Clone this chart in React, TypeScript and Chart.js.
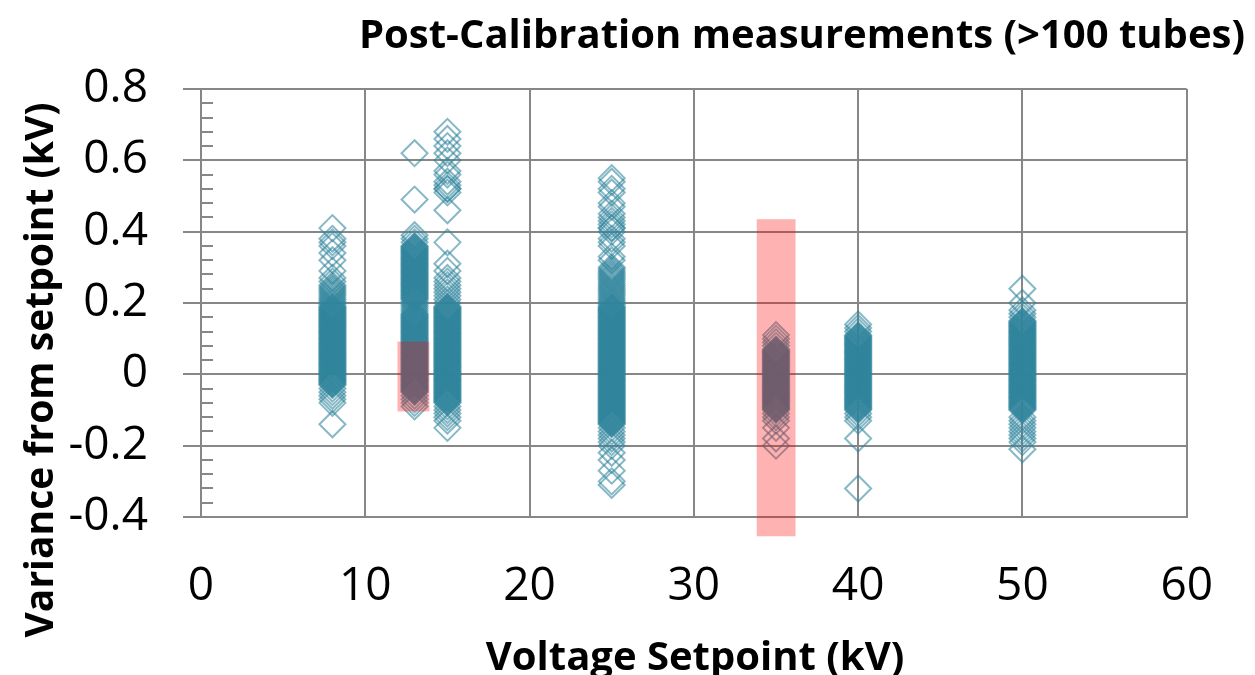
import React, { useEffect, useRef } from "react";
import { Chart, registerables } from "chart.js";

Chart.register(...registerables);

// ---- Data (kV setpoint columns and their measured variances) ----
const SETPOINTS = [8, 13, 15, 25, 35, 40, 50];

const VAR_8 = [
  0.41, 0.38, 0.37, 0.36, 0.34, 0.32, 0.29, 0.27, 0.26, 0.25, 0.24, 0.23, 0.22, 0.21, 0.2,
  0.245, 0.235, 0.225, 0.215, 0.205, 0.195,
  0.19, 0.185, 0.18, 0.175, 0.17, 0.165, 0.16, 0.155, 0.15, 0.145, 0.14, 0.135, 0.13, 0.125, 0.12, 0.115,
  0.11, 0.105, 0.1, 0.095, 0.09, 0.085, 0.08, 0.075, 0.07, 0.065, 0.06, 0.055, 0.05, 0.045, 0.04, 0.035,
  0.03, 0.025, 0.02, 0.015, 0.01, 0.005, 0, -0.005, -0.01, -0.015, -0.02, -0.025, -0.03,
  0.1875, 0.1825, 0.1775, 0.1725, 0.1675, 0.1625, 0.1575, 0.1525, 0.1475, 0.1425, 0.1375, 0.1325, 0.1275,
  0.1225, 0.1175, 0.1125, 0.1075, 0.1025, 0.0975, 0.0925, 0.0875, 0.0825, 0.0775, 0.0725, 0.0675, 0.0625,
  0.0575, 0.0525, 0.0475, 0.0425, 0.0375, 0.0325, 0.0275, 0.0225, 0.0175, 0.0125, 0.0075, 0.0025, -0.0025,
  -0.0075, -0.0125, -0.0175, -0.0225, -0.0275,
  -0.04, -0.05, -0.06, -0.07, -0.08, -0.14,
];
const VAR_13 = [
  0.62, 0.49, 0.39, 0.38, 0.37,
  0.36, 0.355, 0.35, 0.345, 0.34, 0.335, 0.33, 0.325, 0.32, 0.315, 0.31, 0.305, 0.3, 0.295, 0.29, 0.285,
  0.28, 0.275, 0.27, 0.265, 0.26, 0.255, 0.25, 0.245, 0.24, 0.235, 0.23, 0.225, 0.22, 0.215, 0.21,
  0.3575, 0.3525, 0.3475, 0.3425, 0.3375, 0.3325, 0.3275, 0.3225, 0.3175, 0.3125, 0.3075, 0.3025, 0.2975,
  0.2925, 0.2875, 0.2825, 0.2775, 0.2725, 0.2675, 0.2625, 0.2575, 0.2525, 0.2475, 0.2425, 0.2375, 0.2325,
  0.2275, 0.2225, 0.2175, 0.2125,
  0.205, 0.2, 0.195, 0.19, 0.185, 0.18, 0.175,
  0.17, 0.165, 0.16, 0.155, 0.15, 0.145, 0.14, 0.135, 0.13, 0.125, 0.12, 0.115, 0.11, 0.105, 0.1, 0.095,
  0.09, 0.085, 0.08, 0.075, 0.07, 0.065, 0.06, 0.055, 0.05, 0.045, 0.04, 0.035, 0.03, 0.025, 0.02, 0.015,
  0.01, 0.005, 0, -0.005, -0.01, -0.015, -0.02, -0.025, -0.03, -0.035, -0.04, -0.045, -0.05,
  0.1675, 0.1625, 0.1575, 0.1525, 0.1475, 0.1425, 0.1375, 0.1325, 0.1275, 0.1225, 0.1175, 0.1125, 0.1075,
  0.1025, 0.0975, 0.0925, 0.0875, 0.0825, 0.0775, 0.0725, 0.0675, 0.0625, 0.0575, 0.0525, 0.0475, 0.0425,
  0.0375, 0.0325, 0.0275, 0.0225, 0.0175, 0.0125, 0.0075, 0.0025, -0.0025, -0.0075, -0.0125, -0.0175,
  -0.0225, -0.0275, -0.0325, -0.0375, -0.0425, -0.0475,
  -0.06, -0.07, -0.08, -0.09,
];
const VAR_15 = [
  0.68, 0.66, 0.64, 0.62, 0.6, 0.57, 0.56, 0.54, 0.53, 0.52, 0.52, 0.51, 0.46, 0.37, 0.31,
  0.29, 0.27, 0.26, 0.25, 0.24, 0.23, 0.22, 0.21, 0.2,
  0.19, 0.185, 0.18, 0.175, 0.17, 0.165, 0.16, 0.155, 0.15, 0.145, 0.14, 0.135, 0.13, 0.125, 0.12, 0.115,
  0.11, 0.105, 0.1, 0.095, 0.09, 0.085, 0.08, 0.075, 0.07, 0.065, 0.06, 0.055, 0.05, 0.045, 0.04, 0.035,
  0.03, 0.025, 0.02, 0.015, 0.01, 0.005, 0, -0.005, -0.01, -0.015, -0.02, -0.025, -0.03, -0.035, -0.04,
  -0.045, -0.05, -0.055, -0.06, -0.065, -0.07, -0.075, -0.08,
  0.1875, 0.1825, 0.1775, 0.1725, 0.1675, 0.1625, 0.1575, 0.1525, 0.1475, 0.1425, 0.1375, 0.1325, 0.1275,
  0.1225, 0.1175, 0.1125, 0.1075, 0.1025, 0.0975, 0.0925, 0.0875, 0.0825, 0.0775, 0.0725, 0.0675, 0.0625,
  0.0575, 0.0525, 0.0475, 0.0425, 0.0375, 0.0325, 0.0275, 0.0225, 0.0175, 0.0125, 0.0075, 0.0025, -0.0025,
  -0.0075, -0.0125, -0.0175, -0.0225, -0.0275, -0.0325, -0.0375, -0.0425, -0.0475, -0.0525, -0.0575,
  -0.0625, -0.0675, -0.0725, -0.0775,
  -0.09, -0.1, -0.11, -0.12, -0.13, -0.15,
];
const VAR_25 = [
  0.55, 0.54, 0.52, 0.51, 0.48, 0.47, 0.45, 0.44, 0.43, 0.42, 0.41, 0.41, 0.4, 0.38, 0.37, 0.36, 0.33, 0.32,
  0.3, 0.29, 0.28, 0.27, 0.26, 0.25, 0.24, 0.23, 0.22, 0.21, 0.2,
  0.295, 0.285, 0.275, 0.265, 0.255, 0.245, 0.235, 0.225, 0.215, 0.205, 0.195,
  0.19, 0.185, 0.18, 0.175, 0.17, 0.165, 0.16, 0.155, 0.15, 0.145, 0.14, 0.135, 0.13, 0.125, 0.12, 0.115,
  0.11, 0.105, 0.1, 0.095, 0.09, 0.085, 0.08, 0.075, 0.07, 0.065, 0.06, 0.055, 0.05, 0.045, 0.04, 0.035,
  0.03, 0.025, 0.02, 0.015, 0.01, 0.005, 0, -0.005, -0.01, -0.015, -0.02, -0.025, -0.03, -0.035, -0.04,
  -0.045, -0.05, -0.055, -0.06, -0.065, -0.07, -0.075, -0.08, -0.085, -0.09, -0.095, -0.1, -0.105, -0.11,
  -0.115, -0.12, -0.125, -0.13, -0.135, -0.14,
  0.1875, 0.1825, 0.1775, 0.1725, 0.1675, 0.1625, 0.1575, 0.1525, 0.1475, 0.1425, 0.1375, 0.1325, 0.1275,
  0.1225, 0.1175, 0.1125, 0.1075, 0.1025, 0.0975, 0.0925, 0.0875, 0.0825, 0.0775, 0.0725, 0.0675, 0.0625,
  0.0575, 0.0525, 0.0475, 0.0425, 0.0375, 0.0325, 0.0275, 0.0225, 0.0175, 0.0125, 0.0075, 0.0025, -0.0025,
  -0.0075, -0.0125, -0.0175, -0.0225, -0.0275, -0.0325, -0.0375, -0.0425, -0.0475, -0.0525, -0.0575,
  -0.0625, -0.0675, -0.0725, -0.0775, -0.0825, -0.0875, -0.0925, -0.0975, -0.1025, -0.1075, -0.1125,
  -0.1175, -0.1225, -0.1275, -0.1325, -0.1375,
  -0.15, -0.16, -0.17, -0.18, -0.19, -0.2, -0.22, -0.24, -0.27, -0.3, -0.31,
];
const VAR_35 = [
  0.11, 0.1, 0.09, 0.08,
  0.07, 0.065, 0.06, 0.055, 0.05, 0.045, 0.04, 0.035, 0.03, 0.025, 0.02, 0.015, 0.01, 0.005, 0, -0.005,
  -0.01, -0.015, -0.02, -0.025, -0.03, -0.035, -0.04, -0.045, -0.05, -0.055, -0.06, -0.065, -0.07, -0.075,
  -0.08, -0.085, -0.09, -0.095, -0.1,
  0.0675, 0.0625, 0.0575, 0.0525, 0.0475, 0.0425, 0.0375, 0.0325, 0.0275, 0.0225, 0.0175, 0.0125, 0.0075,
  0.0025, -0.0025, -0.0075, -0.0125, -0.0175, -0.0225, -0.0275, -0.0325, -0.0375, -0.0425, -0.0475,
  -0.0525, -0.0575, -0.0625, -0.0675, -0.0725, -0.0775, -0.0825, -0.0875, -0.0925, -0.0975,
  -0.11, -0.12, -0.13, -0.15, -0.18, -0.2,
];
const VAR_40 = [
  0.14, 0.13, 0.12,
  0.11, 0.105, 0.1, 0.095, 0.09, 0.085, 0.08, 0.075, 0.07, 0.065, 0.06, 0.055, 0.05, 0.045, 0.04, 0.035,
  0.03, 0.025, 0.02, 0.015, 0.01, 0.005, 0, -0.005, -0.01, -0.015, -0.02, -0.025, -0.03, -0.035, -0.04,
  -0.045, -0.05, -0.055, -0.06, -0.065, -0.07, -0.075, -0.08, -0.085, -0.09, -0.095, -0.1,
  0.1075, 0.1025, 0.0975, 0.0925, 0.0875, 0.0825, 0.0775, 0.0725, 0.0675, 0.0625, 0.0575, 0.0525, 0.0475,
  0.0425, 0.0375, 0.0325, 0.0275, 0.0225, 0.0175, 0.0125, 0.0075, 0.0025, -0.0025, -0.0075, -0.0125,
  -0.0175, -0.0225, -0.0275, -0.0325, -0.0375, -0.0425, -0.0475, -0.0525, -0.0575, -0.0625, -0.0675,
  -0.0725, -0.0775, -0.0825, -0.0875, -0.0925, -0.0975,
  -0.11, -0.12, -0.13, -0.18, -0.32,
];
const VAR_50 = [
  0.24, 0.2, 0.18, 0.17, 0.16,
  0.15, 0.145, 0.14, 0.135, 0.13, 0.125, 0.12, 0.115, 0.11, 0.105, 0.1, 0.095, 0.09, 0.085, 0.08, 0.075,
  0.07, 0.065, 0.06, 0.055, 0.05, 0.045, 0.04, 0.035, 0.03, 0.025, 0.02, 0.015, 0.01, 0.005, 0, -0.005,
  -0.01, -0.015, -0.02, -0.025, -0.03, -0.035, -0.04, -0.045, -0.05, -0.055, -0.06, -0.065, -0.07, -0.075,
  -0.08, -0.085, -0.09, -0.095, -0.1,
  0.1475, 0.1425, 0.1375, 0.1325, 0.1275, 0.1225, 0.1175, 0.1125, 0.1075, 0.1025, 0.0975, 0.0925, 0.0875,
  0.0825, 0.0775, 0.0725, 0.0675, 0.0625, 0.0575, 0.0525, 0.0475, 0.0425, 0.0375, 0.0325, 0.0275, 0.0225,
  0.0175, 0.0125, 0.0075, 0.0025, -0.0025, -0.0075, -0.0125, -0.0175, -0.0225, -0.0275, -0.0325, -0.0375,
  -0.0425, -0.0475, -0.0525, -0.0575, -0.0625, -0.0675, -0.0725, -0.0775, -0.0825, -0.0875, -0.0925,
  -0.0975,
  -0.12, -0.13, -0.14, -0.15, -0.16, -0.17, -0.18, -0.19, -0.21,
];
const VARIANCES = [VAR_8, VAR_13, VAR_15, VAR_25, VAR_35, VAR_40, VAR_50];

// ---- Axes ----
const X_TICKS = [0, 10, 20, 30, 40, 50, 60];
const Y_TICKS = [-0.4, -0.2, 0, 0.2, 0.4, 0.6, 0.8];
const Y_MINOR_STEP = 0.04;

// ---- Highlight boxes (data coordinates) ----
const HIGHLIGHT_X = [
  [11.96, 13.9],
  [33.83, 36.19],
];
const HIGHLIGHT_Y = [
  [-0.104, 0.092],
  [-0.454, 0.435],
];

const TITLE = "Post-Calibration measurements (>100 tubes)";
const X_TITLE = "Voltage Setpoint (kV)";
const Y_TITLE = "Variance from setpoint (kV)";

const FONT = "'Open Sans', 'DejaVu Sans', sans-serif";
const GRID = "#878787";
const POINT = "rgba(49,133,156,0.58)";

const minorTicks = {
  id: "minorTicks",
  beforeDatasetsDraw(chart: any) {
    const y = chart.scales.y;
    const left = chart.chartArea.left;
    const ctx = chart.ctx;
    const min = Y_TICKS[0];
    const max = Y_TICKS[Y_TICKS.length - 1];
    const n = Math.round((max - min) / Y_MINOR_STEP);
    ctx.save();
    ctx.strokeStyle = GRID;
    ctx.lineWidth = 2;
    for (let k = 0; k <= n; k++) {
      const py = Math.round(y.getPixelForValue(min + k * Y_MINOR_STEP));
      ctx.beginPath();
      ctx.moveTo(left, py);
      ctx.lineTo(left + 12, py);
      ctx.stroke();
    }
    ctx.restore();
  },
};

const highlights = {
  id: "highlights",
  afterDatasetsDraw(chart: any) {
    const { x, y } = chart.scales;
    const ctx = chart.ctx;
    ctx.save();
    ctx.fillStyle = "rgba(255,0,0,0.3)";
    HIGHLIGHT_X.forEach((hx, i) => {
      const x0 = x.getPixelForValue(hx[0]);
      const x1 = x.getPixelForValue(hx[1]);
      const y0 = y.getPixelForValue(HIGHLIGHT_Y[i][1]);
      const y1 = y.getPixelForValue(HIGHLIGHT_Y[i][0]);
      ctx.fillRect(x0, y0, x1 - x0, y1 - y0);
    });
    ctx.restore();
  },
};

const texts = {
  id: "texts",
  afterDraw(chart: any) {
    const ctx = chart.ctx;
    ctx.save();
    ctx.fillStyle = "#000";
    ctx.font = `bold 40px ${FONT}`;
    ctx.textAlign = "right";
    ctx.textBaseline = "middle";
    ctx.fillText(TITLE, 1245, 37);
    ctx.textAlign = "center";
    ctx.textBaseline = "alphabetic";
    ctx.font = `bold 40px ${FONT}`;
    ctx.fillText(X_TITLE, 695, 670);
    ctx.font = `bold 39px ${FONT}`;
    ctx.translate(53, 370);
    ctx.rotate(-Math.PI / 2);
    ctx.fillText(Y_TITLE, 0, 0);
    ctx.restore();
  },
};

export default function App() {
  const ref = useRef<HTMLCanvasElement | null>(null);

  useEffect(() => {
    if (!ref.current) return;
    const points: { x: number; y: number }[] = [];
    SETPOINTS.forEach((sp, i) => {
      VARIANCES[i].forEach((v) => points.push({ x: sp, y: v }));
    });

    const chart = new Chart(ref.current, {
      type: "scatter",
      data: {
        datasets: [
          {
            data: points,
            pointStyle: "rectRot",
            pointRadius: 13,
            borderWidth: 2,
            borderColor: POINT,
            backgroundColor: "rgba(0,0,0,0)",
          },
        ],
      },
      options: {
        animation: false,
        responsive: false,
        devicePixelRatio: 1,
        events: [],
        layout: { padding: { top: 89, right: 66, left: 0, bottom: 0 } },
        plugins: { legend: { display: false }, tooltip: { enabled: false }, title: { display: false } },
        scales: {
          x: {
            type: "linear",
            min: 0,
            max: 60,
            afterBuildTicks: (s: any) => {
              s.ticks = X_TICKS.map((v) => ({ value: v }));
            },
            afterFit: (s: any) => {
              s.height = 158;
            },
            grid: { color: GRID, lineWidth: 2, drawTicks: false },
            border: { display: true, color: GRID, width: 2 },
            ticks: {
              color: "#000",
              font: { family: FONT, size: 46 },
              padding: 42,
              maxRotation: 0,
              callback: (v: any) => String(v),
            },
          },
          y: {
            type: "linear",
            min: -0.4,
            max: 0.8,
            afterBuildTicks: (s: any) => {
              s.ticks = Y_TICKS.map((v) => ({ value: v }));
            },
            afterFit: (s: any) => {
              s.width = 201;
            },
            grid: { color: GRID, lineWidth: 2, drawTicks: true, tickLength: 18 },
            border: { display: true, color: GRID, width: 2 },
            ticks: {
              color: "#000",
              font: { family: FONT, size: 46 },
              padding: 35,
              callback: (v: any) => String(Math.round(Number(v) * 10) / 10),
            },
          },
        },
      },
      plugins: [minorTicks, highlights, texts],
    });
    return () => chart.destroy();
  }, []);

  return (
    <div style={{ position: "fixed", left: 0, top: 0, width: 1255, height: 675, background: "#fff" }}>
      <canvas ref={ref} width={1255} height={675} />
    </div>
  );
}
